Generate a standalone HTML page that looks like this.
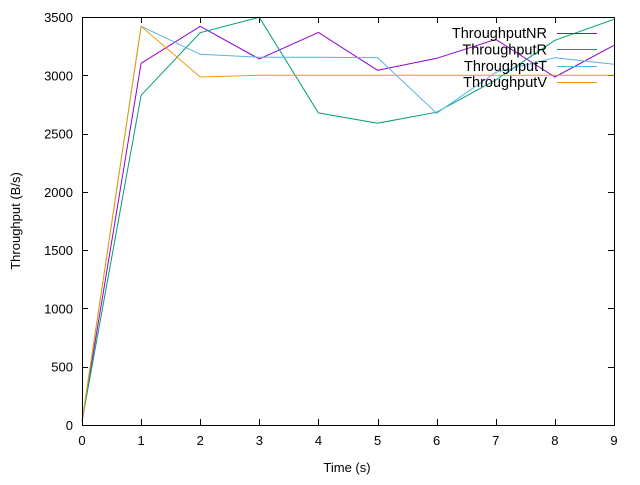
<!DOCTYPE html>
<html><head><meta charset="utf-8"><style>
html,body{margin:0;padding:0;background:#fff;}
svg text{font-family:"Liberation Sans",sans-serif;font-size:13px;fill:#000;}
svg text.lg{font-size:14.5px;}
</style></head><body>
<svg id="chart" width="640" height="480" xmlns="http://www.w3.org/2000/svg">
<g id="axes"></g><g id="series"></g><g id="legend"></g>
<rect x="82.5" y="17.5" width="532" height="408" fill="none" stroke="#000" stroke-width="1"/>
<text x="347" y="472" text-anchor="middle">Time (s)</text>
<text transform="translate(20,221) rotate(-90)" text-anchor="middle">Throughput (B/s)</text>
</svg>
<script>
const xTicks = [0,1,2,3,4,5,6,7,8,9];
const yTicks = [0,500,1000,1500,2000,2500,3000,3500];
const seriesNames = ["ThroughputNR","ThroughputR","ThroughputT","ThroughputV"];
const seriesColors = ["#9400d3","#009e73","#56b4e9","#e69f00"];
const nrValues = [30,3103,3420,3140,3368,3043,3146,3308,2985,3257];
const rValues = [30,2828,3365,3497,2677,2589,2683,2960,3300,3480];
const tValues = [30,3420,3180,3155,3155,3150,2675,3025,3150,3095];
const vValues = [30,3420,2985,3000,3000,3000,3000,3000,3000,3000];
const allValues = [nrValues,rValues,tValues,vValues];

const X0=82, X1=614, Y0=425, Y1=17;
const xs = v => X0 + (v-0)/(9-0)*(X1-X0);
const ys = v => Y0 - v/3500*(Y0-Y1);
const NS="http://www.w3.org/2000/svg";
function mk(tag, attrs, parent){const e=document.createElementNS(NS,tag);for(const k in attrs)e.setAttribute(k,attrs[k]);parent.appendChild(e);return e;}
const axes=document.getElementById('axes');
xTicks.forEach(t=>{
  const x=Math.round(xs(t))+0.5;
  const a=mk('line',{x1:x,x2:x,y1:425,y2:419,stroke:'#000'},axes);
  
  
  const b=mk('line',{x1:x,x2:x,y1:17,y2:23,stroke:'#000'},axes);
  
  
  const l=mk('text',{x:xs(t),y:445,'text-anchor':'middle'},axes);l.textContent=t;
  
  
});
yTicks.forEach(t=>{
  const y=Math.round(ys(t))+0.5;
  const a=mk('line',{x1:82,x2:88,y1:y,y2:y,stroke:'#000'},axes);
  
  
  const b=mk('line',{x1:608,x2:614,y1:y,y2:y,stroke:'#000'},axes);
  
  
  const l=mk('text',{x:73,y:ys(t)+5,'text-anchor':'end'},axes);l.textContent=t;
  
  
});
const sg=document.getElementById('series'), lg=document.getElementById('legend');
allValues.forEach((vals,i)=>{
  const pts=vals.map((v,j)=>xs(xTicks[j]).toFixed(1)+','+ys(v).toFixed(1)).join(' ');
  const p=mk('polyline',{points:pts,fill:'none',stroke:seriesColors[i],'stroke-width':1},sg);
  
  
  const ly=33+i*16.4;
  const t=mk('text',{x:547,y:ly+5,'text-anchor':'end','class':'lg'},lg);t.textContent=seriesNames[i];
  
  
  const ll=mk('line',{x1:557,x2:597,y1:Math.round(ly)+0.5,y2:Math.round(ly)+0.5,stroke:seriesColors[i],'stroke-width':1},lg);
  
  
});
</script>
</body></html>
